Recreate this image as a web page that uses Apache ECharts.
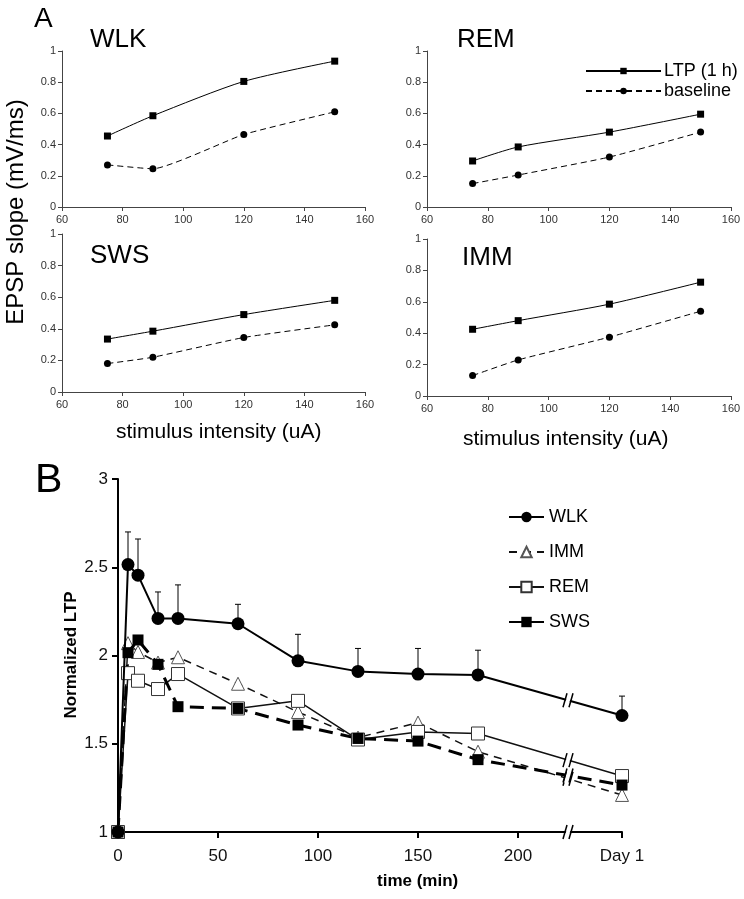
<!DOCTYPE html>
<html><head><meta charset="utf-8">
<script src="https://cdn.jsdelivr.net/npm/echarts@6/dist/echarts.min.js"></script>
<style>html,body{margin:0;padding:0;background:#fff}#c{width:744px;height:899px}</style>
</head><body><div id="c"></div>
<script>
// Panel A data
const intensity = [75, 90, 120, 150];
const wlkLTP = [0.455, 0.585, 0.805, 0.935];
const wlkBase = [0.27, 0.245, 0.465, 0.61];
const remLTP = [0.295, 0.385, 0.48, 0.595];
const remBase = [0.15, 0.205, 0.32, 0.48];
const swsLTP = [0.335, 0.385, 0.49, 0.58];
const swsBase = [0.18, 0.22, 0.345, 0.425];
const immLTP = [0.425, 0.48, 0.585, 0.725];
const immBase = [0.13, 0.23, 0.375, 0.54];
const aXTicks = [60, 80, 100, 120, 140, 160];
const aYTicks = [0, 0.2, 0.4, 0.6, 0.8, 1];

// Panel B data
const timeMin = [0, 5, 10, 20, 30, 60, 90, 120, 150, 180, 252]; // 252 = "Day 1" position
const bXTickValues = [0, 50, 100, 150, 200, 252];
const bXTickLabels = ['0', '50', '100', '150', '200', 'Day 1'];
const wlkB = [1, 2.515, 2.455, 2.21, 2.21, 2.18, 1.97, 1.91, 1.895, 1.89, 1.66];
const wlkErrTop = [null, 2.70, 2.66, 2.36, 2.40, 2.29, 2.12, 2.04, 2.04, 2.03, 1.77];
const immB = [1, 2.07, 2.02, 1.96, 1.99, 1.84, 1.68, 1.535, 1.62, 1.455, 1.21];
const remB = [1, 1.90, 1.857, 1.81, 1.895, 1.70, 1.743, 1.524, 1.567, 1.558, 1.317];
const swsB = [1, 2.016, 2.088, 1.95, 1.71, 1.70, 1.606, 1.53, 1.515, 1.41, 1.266];
const breakAt = 225;

const pair = (xs, ys) => xs.map((x, i) => [x, ys[i]]);
const font = 'Liberation Sans, Arial, sans-serif';

const gridsA = [
  {left: 62, top: 51, width: 303, height: 156},
  {left: 427, top: 51, width: 304, height: 156},
  {left: 62, top: 234, width: 303, height: 158},
  {left: 427, top: 239, width: 304, height: 157}
];
const gridB = {left: 118, top: 479, width: 504, height: 353};

const xAxes = [], yAxes = [];
gridsA.forEach((g, i) => {
  xAxes.push({gridIndex: i, type: 'value', min: aXTicks[0], max: aXTicks[aXTicks.length-1], interval: 20,
    axisLine: {lineStyle: {color: '#444', width: 1}}, axisTick: {length: 4, lineStyle: {color: '#444'}},
    axisLabel: {color: '#333', fontSize: 11, fontFamily: font, margin: 7}, splitLine: {show: false}});
  yAxes.push({gridIndex: i, type: 'value', min: aYTicks[0], max: aYTicks[aYTicks.length-1], interval: 0.2,
    axisLine: {show: true, lineStyle: {color: '#444', width: 1}}, axisTick: {show: true, length: 4, lineStyle: {color: '#444'}},
    axisLabel: {color: '#333', fontSize: 11, fontFamily: font, margin: 6}, splitLine: {show: false}});
});
xAxes.push({gridIndex: 4, type: 'value', min: 0, max: 252,
  axisLine: {lineStyle: {color: '#000', width: 2}},
  axisTick: {length: 6, lineStyle: {color: '#000', width: 2}, customValues: bXTickValues},
  axisLabel: {color: '#111', fontSize: 17, fontFamily: font, margin: 16, customValues: bXTickValues,
    formatter: v => bXTickLabels[bXTickValues.indexOf(v)] || ''},
  splitLine: {show: false}});
yAxes.push({gridIndex: 4, type: 'value', min: 1, max: 3, interval: 0.5,
  axisLine: {show: true, lineStyle: {color: '#000', width: 2}},
  axisTick: {show: true, length: 6, lineStyle: {color: '#000', width: 2}},
  axisLabel: {color: '#111', fontSize: 17, fontFamily: font, margin: 10}, splitLine: {show: false}});

const seriesA = [];
const panelsA = [[wlkLTP, wlkBase], [remLTP, remBase], [swsLTP, swsBase], [immLTP, immBase]];
panelsA.forEach((p, i) => {
  seriesA.push({name: 'LTP (1 h)', type: 'line', xAxisIndex: i, yAxisIndex: i, data: pair(intensity, p[0]),
    smooth: 0.25, symbol: 'rect', symbolSize: 7, itemStyle: {color: '#000'}, lineStyle: {color: '#000', width: 1}});
  seriesA.push({name: 'baseline', type: 'line', xAxisIndex: i, yAxisIndex: i, data: pair(intensity, p[1]),
    smooth: 0.15, symbol: 'circle', symbolSize: 7, itemStyle: {color: '#000'}, lineStyle: {color: '#000', width: 1, type: [6, 4]}});
});

function interpBreak(ys) {
  const n = ys.length;
  const x0 = timeMin[n-2], x1 = timeMin[n-1];
  return [breakAt, ys[n-2] + (ys[n-1]-ys[n-2])*(breakAt-x0)/(x1-x0)];
}
const breakPts = [interpBreak(wlkB), interpBreak(remB), interpBreak(immB), interpBreak(swsB), [breakAt, 1]];

const seriesB = [
  {name: 'WLK', type: 'line', xAxisIndex: 4, yAxisIndex: 4, data: pair(timeMin, wlkB), z: 5,
    symbol: 'circle', symbolSize: 13, itemStyle: {color: '#000'}, lineStyle: {color: '#000', width: 2}},
  {name: 'IMM', type: 'line', xAxisIndex: 4, yAxisIndex: 4, data: pair(timeMin, immB), z: 3,
    symbol: 'triangle', symbolSize: 13, itemStyle: {color: '#fff', borderColor: '#555', borderWidth: 1},
    lineStyle: {color: '#111', width: 1.5, type: [8, 6]}},
  {name: 'REM', type: 'line', xAxisIndex: 4, yAxisIndex: 4, data: pair(timeMin, remB), z: 4,
    symbol: 'rect', symbolSize: 13, itemStyle: {color: '#fff', borderColor: '#333', borderWidth: 1},
    lineStyle: {color: '#111', width: 1.5}},
  {name: 'SWS', type: 'line', xAxisIndex: 4, yAxisIndex: 4, data: pair(timeMin, swsB), z: 4,
    symbol: 'rect', symbolSize: 11, itemStyle: {color: '#000'}, lineStyle: {color: '#000', width: 3, type: [14, 8]}},
  {type: 'custom', xAxisIndex: 4, yAxisIndex: 4, z: 2, silent: true,
    data: timeMin.map((t, i) => [t, wlkB[i], wlkErrTop[i]]).filter(d => d[2] != null),
    renderItem: (params, api) => {
      const p0 = api.coord([api.value(0), api.value(1)]);
      const p1 = api.coord([api.value(0), api.value(2)]);
      return {type: 'group', children: [
        {type: 'line', shape: {x1: p0[0], y1: p0[1], x2: p1[0], y2: p1[1]}, style: {stroke: '#000', lineWidth: 1}},
        {type: 'line', shape: {x1: p1[0]-3, y1: p1[1], x2: p1[0]+3, y2: p1[1]}, style: {stroke: '#000', lineWidth: 1}}
      ]};
    }},
  {type: 'custom', xAxisIndex: 4, yAxisIndex: 4, z: 10, silent: true, clip: false,
    data: breakPts,
    renderItem: (params, api) => {
      const p = api.coord([api.value(0), api.value(1)]);
      const x = p[0], y = p[1];
      return {type: 'group', children: [
        {type: 'polygon', shape: {points: [[x-4, y+7], [x, y+7], [x+4, y-7], [x, y-7]]}, style: {fill: '#fff'}},
        {type: 'line', shape: {x1: x-5, y1: y+7, x2: x-1, y2: y-7}, style: {stroke: '#000', lineWidth: 1.5}},
        {type: 'line', shape: {x1: x+1, y1: y+7, x2: x+5, y2: y-7}, style: {stroke: '#000', lineWidth: 1.5}}
      ]};
    }}
];

const ts = (size, weight) => ({fontSize: size, fontWeight: weight || 'normal', fontFamily: font, color: '#000'});
const titles = [
  {text: 'A', left: 29, top: 0, textStyle: ts(28)},
  {text: 'WLK', left: 85, top: 22, textStyle: ts(26)},
  {text: 'REM', left: 452, top: 22, textStyle: ts(26)},
  {text: 'SWS', left: 85, top: 238, textStyle: ts(26)},
  {text: 'IMM', left: 457, top: 240, textStyle: ts(26)},
  {text: 'stimulus intensity (uA)', left: 111, top: 417, textStyle: ts(21)},
  {text: 'stimulus intensity (uA)', left: 458, top: 424, textStyle: ts(21)},
  {text: 'B', left: 30, top: 455, textStyle: ts(41)},
  {text: 'time (min)', left: 372, top: 868, textStyle: ts(17, 'bold')}
];

const chart = echarts.init(document.getElementById('c'), null, {renderer: 'canvas'});
chart.setOption({
  backgroundColor: '#fff',
  animation: false,
  title: titles,
  graphic: [
    {type: 'text', x: 16, y: 212, rotation: Math.PI/2, style: {text: 'EPSP slope (mV/ms)', font: '24px ' + font, fill: '#000', textAlign: 'center', textVerticalAlign: 'middle'}},
    {type: 'text', x: 71, y: 655, rotation: Math.PI/2, style: {text: 'Normalized LTP', font: 'bold 17px ' + font, fill: '#000', textAlign: 'center', textVerticalAlign: 'middle'}}
  ],
  legend: [
    {data: ['LTP (1 h)', 'baseline'], left: 580, top: 57, orient: 'vertical', itemWidth: 75, itemHeight: 8, itemGap: 2,
      textStyle: {fontSize: 18, fontFamily: font, color: '#000', padding: [0,0,0,-2]}, selectedMode: false},
    {data: ['WLK', 'IMM', 'REM', 'SWS'], left: 503, top: 503, orient: 'vertical', itemWidth: 35, itemHeight: 13, itemGap: 17,
      textStyle: {fontSize: 18, fontFamily: font, color: '#000'}, selectedMode: false}
  ],
  grid: gridsA.concat([gridB]),
  xAxis: xAxes,
  yAxis: yAxes,
  series: seriesA.concat(seriesB)
});
</script></body></html>
